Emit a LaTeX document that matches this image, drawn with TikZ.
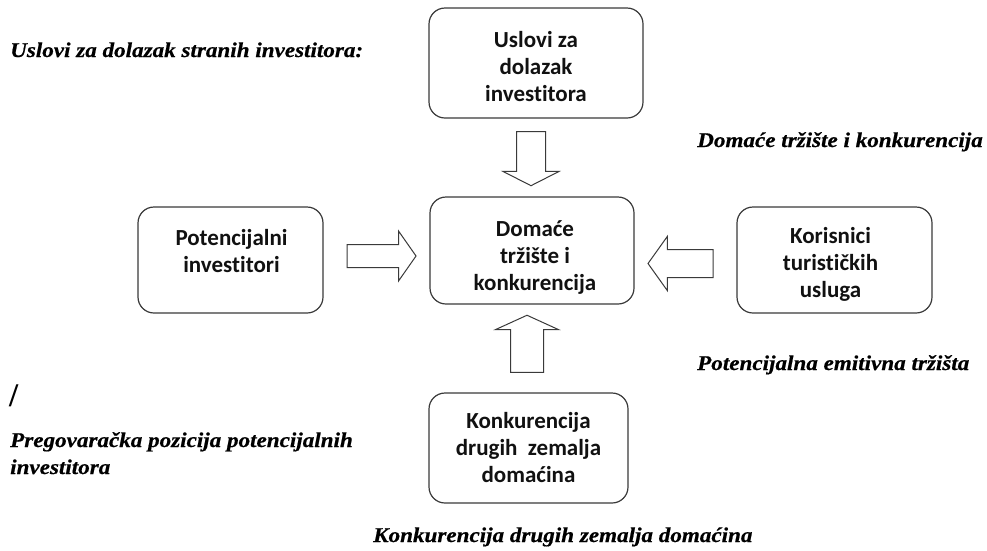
\documentclass[tikz,border=0pt]{standalone}
\usepackage{fontspec}
\usetikzlibrary{shapes.arrows}
\newfontfamily\boxfont[Ligatures=NoCommon]{Carlito}
\newfontfamily\notefont[FakeStretch=1.1, FakeBold=0.6]{Liberation Serif}
\newfontfamily\slashfont{Liberation Serif}
\definecolor{edgegray}{HTML}{3A3A3A}
\definecolor{inkblack}{HTML}{111111}
\tikzset{
  panel/.style={draw=edgegray, line width=1.2pt, rounded corners=16pt, fill=white},
  paneltext/.style={align=center, text=inkblack, inner sep=0pt,
    font=\boxfont\bfseries\fontsize{23}{27}\selectfont},
  note/.style={inner sep=0pt, text=black,
    font=\notefont\bfseries\itshape\fontsize{21}{25}\selectfont},
  % #1 length, #2 head width, #3 shaft width, #4 tip angle
  blockarrow/.style n args={4}{single arrow, draw=edgegray, line width=1pt, fill=white,
    minimum height=#1, minimum width=#2, inner xsep=0pt, inner ysep=#3/2,
    single arrow head extend={(#2-#3)/2}, single arrow tip angle=#4,
    single arrow head indent=0pt, outer sep=0pt}
}
\begin{document}
\begin{tikzpicture}[x=1pt, y=-1pt]
\useasboundingbox (0,0) rectangle (987,550);

% boxes
\node[panel, minimum width=214pt, minimum height=110pt] (uslovi) at (536,63) {};
\node[panel, minimum width=204pt, minimum height=107pt] (trziste) at (532,250.5) {};
\node[panel, minimum width=185pt, minimum height=106pt] (investitori) at (230.5,260) {};
\node[panel, minimum width=195pt, minimum height=106pt] (korisnici) at (834.5,260) {};
\node[panel, minimum width=199pt, minimum height=110pt] (zemlje) at (528.5,448) {};

% box labels
\node[paneltext] (usloviT) at ([yshift=-4pt]uslovi.center) {Uslovi za\\dolazak\\investitora};
\node[paneltext] (trzisteT) at ([xshift=3pt,yshift=-7pt]trziste.center) {Domaće\\tržište i\\konkurencija};
\node[paneltext] (investitoriT) at ([xshift=1pt,yshift=8.5pt]investitori.center) {Potencijalni\\investitori};
\node[paneltext] (korisniciT) at ([xshift=-4pt,yshift=-4pt]korisnici.center) {Korisnici\\turističkih\\usluga};
\node[paneltext] (zemljeT) at (zemlje.center) {Konkurencija\\drugih\ \ zemalja\\domaćina};

% block arrows pointing at the central box
\node[blockarrow={54pt}{55pt}{28pt}{126}, rotate=-90] (aTop) at (531,155) {};
\node[blockarrow={57pt}{62pt}{32pt}{131}, rotate=90] (aBottom) at (527,347.5) {};
\node[blockarrow={69pt}{49pt}{22pt}{110}] (aLeft) at (377.5,256) {};
\node[blockarrow={65pt}{53pt}{27pt}{109}, rotate=180] (aRight) at (685.5,263.5) {};

% side notes
\node[note, anchor=base west] (n1) at (10,57) {Uslovi za dolazak stranih investitora:};
\node[note, anchor=base east] (n2) at (983,147) {Domaće tržište i konkurencija};
\node[note, anchor=base west] (n3) at (697,370) {Potencijalna emitivna tržišta};
\node[inner sep=0pt, anchor=base west, font=\slashfont\bfseries\fontsize{33}{33}\selectfont] (n4) at (9,406) {/};
\node[note, anchor=base west] (n5a) at (10,447) {Pregovaračka pozicija potencijalnih};
\node[note, anchor=base west] (n5b) at (10,474) {investitora};
\node[note, anchor=base west] (n6) at (373,542) {Konkurencija drugih zemalja domaćina};
\end{tikzpicture}
\end{document}
